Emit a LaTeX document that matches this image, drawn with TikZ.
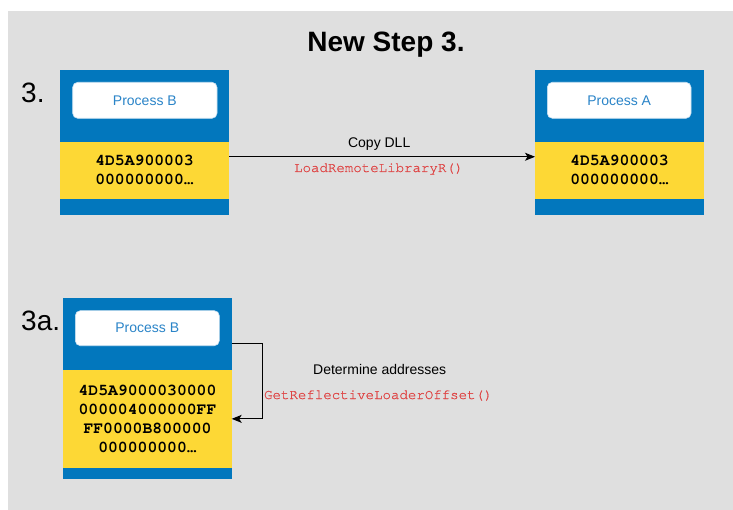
\documentclass[tikz,border=0pt]{standalone}
\usepackage{fontspec}
\setmainfont{Liberation Sans}
\newfontfamily\monofont[Ligatures=NoCommon]{TeX Gyre Cursor}
\newfontfamily\callfont[Ligatures=NoCommon,FakeBold=0.8]{TeX Gyre Cursor}
\usetikzlibrary{arrows.meta}
\definecolor{panel}{HTML}{DFDFDF}
\definecolor{procblue}{HTML}{0277BD}
\definecolor{memyellow}{HTML}{FDD835}
\definecolor{labelblue}{HTML}{2A84C8}
\definecolor{callred}{HTML}{DE4545}

\begin{document}
\begin{tikzpicture}[x=1pt,y=-1pt,
  every node/.style={inner sep=0pt, outer sep=0pt},
  procbox/.style={fill=procblue, anchor=north west, minimum height=145pt},
  membox/.style={fill=memyellow, anchor=north west, align=center,
    font=\monofont\bfseries\fontsize{16.4}{19}\selectfont},
  namebox/.style={fill=white, draw=labelblue!25, line width=0.6pt, rounded corners=5pt,
    anchor=north west, minimum height=36pt, text=labelblue,
    font=\fontsize{14}{16}\selectfont},
  steplabel/.style={anchor=base west, font=\fontsize{28}{30}\selectfont},
  edgetext/.style={anchor=base, font=\fontsize{14}{16}\selectfont},
  calltext/.style={anchor=base, text=callred, font=\callfont\fontsize{14.1}{16}\selectfont},
  flow/.style={draw=black, line width=1.1pt, -{Stealth[length=10pt,width=8pt,inset=2.5pt]}}
]
\useasboundingbox (0,0) rectangle (733,510);
\fill[panel] (8,11) rectangle (733,510);

\node[anchor=base, font=\bfseries\fontsize{28}{32}\selectfont] (title) at (386,51.7) {New Step 3.};

% step 3: copy the DLL from process B to process A
\node[steplabel] (s3) at (21.2,102.3) {3.};
\node[procbox, minimum width=169pt] (box1) at (60,70) {};
\node[membox, minimum width=169pt, minimum height=57.3pt] (mem1) at (60,141.7)
  {4D5A900003\\000000000…};
\node[namebox, minimum width=144.3pt] (name1) at (72.7,82.3) {Process B};

\node[procbox, minimum width=169pt] (box2) at (535,70) {};
\node[membox, minimum width=169pt, minimum height=57.3pt] (mem2) at (535,141.7)
  {4D5A900003\\000000000…};
\node[namebox, minimum width=143.7pt] (name2) at (547.3,82.3) {Process A};

\draw[flow] ([yshift=13.6pt]mem1.east) -- ([yshift=13.6pt]mem2.west);
\node[edgetext] (copy) at (379.2,147.3) {Copy DLL};
\node[calltext] (load) at (378.7,172) {LoadRemoteLibraryR()};

% step 3a: locate the loader inside process B
\node[steplabel] (s3a) at (21.2,330.7) {3a.};
\node[procbox, minimum width=168.4pt, minimum height=181pt] (box3) at (63.3,298.3) {};
\node[membox, minimum width=168.4pt, minimum height=97.7pt] (mem3) at (63.3,370)
  {4D5A9000030000\\000004000000FF\\FF0000B800000\\000000000…};
\node[namebox, minimum width=144pt, minimum height=35pt] (name3) at (75.3,310.7) {Process B};

\draw[flow] ([yshift=45.5pt]box3.east) -- ++(30.6,0) |- (mem3.east);
\node[edgetext] (det) at (379.7,374.3) {Determine addresses};
\node[calltext] (offset) at (378.3,399) {GetReflectiveLoaderOffset()};
\end{tikzpicture}
\end{document}
